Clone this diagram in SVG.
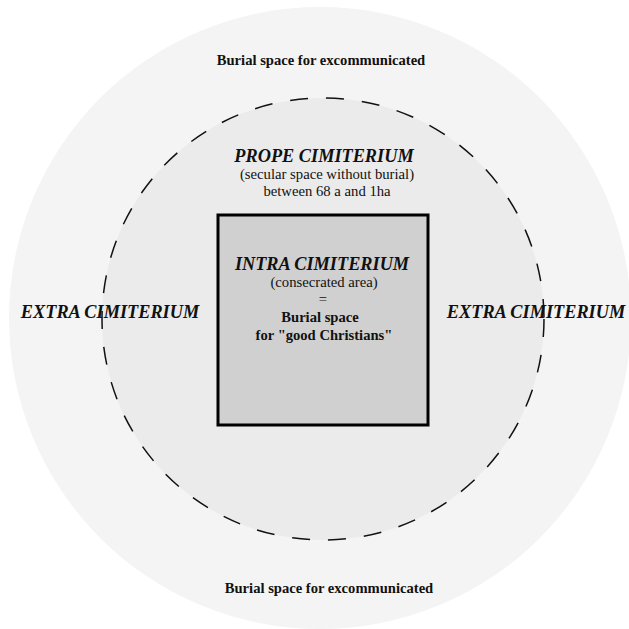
<svg xmlns="http://www.w3.org/2000/svg" width="629" height="629" viewBox="0 0 629 629">
<style>
text{font-family:"Liberation Serif","Times New Roman",serif;fill:#111;text-anchor:middle}
.bi{font-weight:bold;font-style:italic;font-size:18.3px}
.b{font-weight:bold;font-size:14.6px}
.r{font-size:14.7px}
</style>
<rect width="629" height="629" fill="#ffffff"/>
<g id="extra">
<circle cx="320" cy="318" r="311" fill="#f4f4f4"/>
<text class="b" x="321" y="65">Burial space for excommunicated</text>
<text class="b" x="329" y="593">Burial space for excommunicated</text>
</g>
<g id="prope">
<circle cx="323" cy="319" r="221" fill="#ebebeb" stroke="#111" stroke-width="1.5" stroke-dasharray="18 18"/>
<text class="bi" x="324" y="162">PROPE CIMITERIUM</text>
<text class="r" x="327" y="179">(secular space without burial)</text>
<text class="r" x="327" y="196">between 68 a and 1ha</text>
</g>
<g id="intra">
<rect x="218" y="215" width="210" height="210" fill="#d0d0d0" stroke="#000" stroke-width="3"/>
<text class="bi" x="322" y="270">INTRA CIMITERIUM</text>
<text class="r" x="324" y="287">(consecrated area)</text>
<text class="r" x="323" y="304">=</text>
<text class="b" x="320" y="322">Burial space</text>
<text class="b" x="324" y="340">for "good Christians"</text>
</g>
<g id="extra-labels">
<text class="bi" x="110" y="318">EXTRA CIMITERIUM</text>
<text class="bi" x="536" y="318">EXTRA CIMITERIUM</text>
</g>
</svg>
